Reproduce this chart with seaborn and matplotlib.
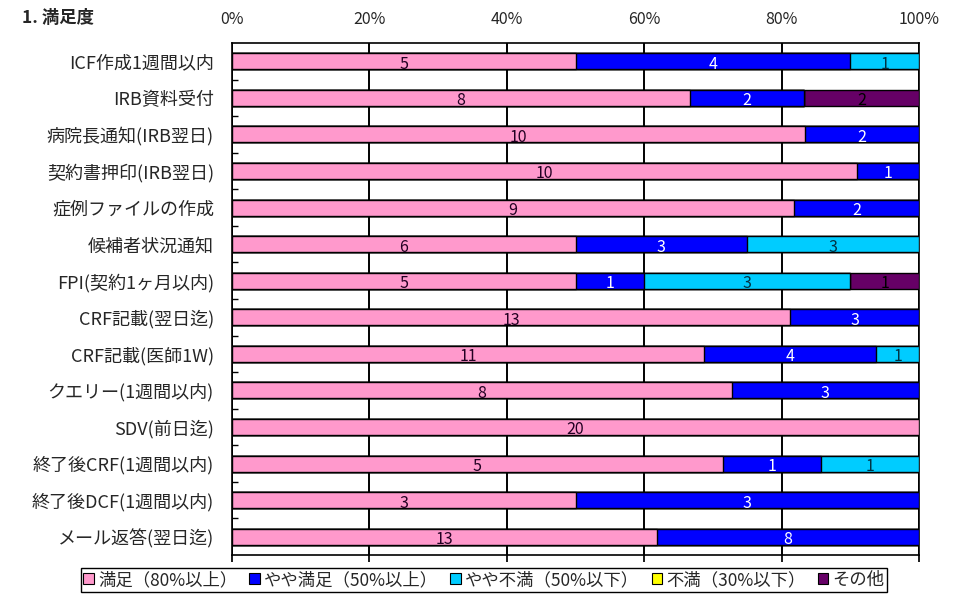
import numpy as np
import pandas as pd
import matplotlib
matplotlib.use("Agg")
import matplotlib.pyplot as plt
import seaborn as sns
from matplotlib.patches import Patch

sns.set_theme(style="white")
plt.rcParams["font.family"] = ["Noto Sans CJK JP", "DejaVu Sans"]

# Survey items (top to bottom)
categories = [
    "ICF作成1週間以内",
    "IRB資料受付",
    "病院長通知(IRB翌日)",
    "契約書押印(IRB翌日)",
    "症例ファイルの作成",
    "候補者状況通知",
    "FPI(契約1ヶ月以内)",
    "CRF記載(翌日迄)",
    "CRF記載(医師1W)",
    "クエリー(1週間以内)",
    "SDV(前日迄)",
    "終了後CRF(1週間以内)",
    "終了後DCF(1週間以内)",
    "メール返答(翌日迄)",
]

# Response counts per rating
satisfied        = [5, 8, 10, 10, 9, 6, 5, 13, 11, 8, 20, 5, 3, 13]
mostly_satisfied = [4, 2, 2, 1, 2, 3, 1, 3, 4, 3, 0, 1, 3, 8]
mostly_unsat     = [1, 0, 0, 0, 0, 3, 3, 0, 1, 0, 0, 1, 0, 0]
unsatisfied      = [0, 0, 0, 0, 0, 0, 0, 0, 0, 0, 0, 0, 0, 0]
other            = [0, 2, 0, 0, 0, 0, 1, 0, 0, 0, 0, 0, 0, 0]

series_names = ["満足（80%以上）", "やや満足（50%以上）", "やや不満（50%以下）",
                "不満（30%以下）", "その他"]
series_colors = ["#FF99CC", "#0000FF", "#00CCFF", "#FFFF00", "#660066"]
text_colors = ["#220022", "#FFFFFF", "#003344", "#000000", "#000000"]
tick_labels = ["0%", "20%", "40%", "60%", "80%", "100%"]

counts = np.array([satisfied, mostly_satisfied, mostly_unsat, unsatisfied, other], dtype=float)
totals = counts.sum(axis=0)
pct = counts / totals * 100
cum = np.cumsum(pct, axis=0)

df = pd.DataFrame({"item": categories})
for i in range(len(series_names)):
    df[f"cum{i}"] = cum[i]

fig = plt.figure(figsize=(9.57, 5.94), dpi=100)
ax = fig.add_axes([232 / 957, 1 - 555 / 594, (919 - 232) / 957, (555 - 43) / 594])

# Stacked bars: draw cumulative totals from the last series back to the first
for i in reversed(range(len(series_names))):
    sns.barplot(data=df, x=f"cum{i}", y="item", orient="h", color=series_colors[i],
                saturation=1, edgecolor="black", linewidth=1.0, width=0.44,
                errorbar=None, ax=ax, zorder=3)

# Count labels centred in each segment
for i in range(len(series_names)):
    for r in range(len(categories)):
        if counts[i, r] > 0:
            start = cum[i, r] - pct[i, r]
            ax.text(start + pct[i, r] / 2, r + 0.08, f"{int(counts[i, r])}",
                    ha="center", va="center", fontsize=11.5, color=text_colors[i], zorder=5)

ax.set_xlim(0, 100)
ax.set_ylim(len(categories) - 0.5, -0.5)
ax.set_xticks([0, 20, 40, 60, 80, 100])
ax.set_xticklabels(tick_labels)
ax.set_xlabel("")
ax.set_ylabel("")
ax.xaxis.tick_top()
ax.tick_params(axis="x", which="major", top=True, bottom=True, labeltop=True,
               labelbottom=False, length=5, direction="out", color="black",
               labelsize=11.5, pad=6)
for t in ax.xaxis.get_major_ticks():
    t.tick2line.set_visible(False)

ax.set_yticks(range(len(categories)))
ax.set_yticklabels(categories)
ax.set_yticks(np.arange(0.5, len(categories) - 0.5, 1), minor=True)
ax.tick_params(axis="y", which="major", length=0, labelsize=13, pad=13)
ax.tick_params(axis="y", which="minor", length=4, direction="in", left=True, color="black")

ax.grid(axis="x", color="black", linewidth=1.4, zorder=1)
ax.grid(axis="y", visible=False)
ax.set_axisbelow(True)
for s in ax.spines.values():
    s.set_color("black")
    s.set_linewidth(1.2)

fig.text(22 / 957, 1 - 18 / 594, "1. 満足度", fontsize=12.5, fontweight="bold",
         va="center", ha="left")

handles = [Patch(facecolor=c, edgecolor="black", linewidth=0.8) for c in series_colors]
fig.legend(handles, series_names, loc="center", bbox_to_anchor=(484 / 957, 1 - 580 / 594),
           ncol=5, fontsize=12.5, frameon=True, fancybox=False, edgecolor="black",
           handlelength=0.6, handleheight=0.6, handletextpad=0.25, columnspacing=0.7,
           borderpad=0.15, borderaxespad=0, framealpha=1)

fig.savefig("out.png", dpi=100)
